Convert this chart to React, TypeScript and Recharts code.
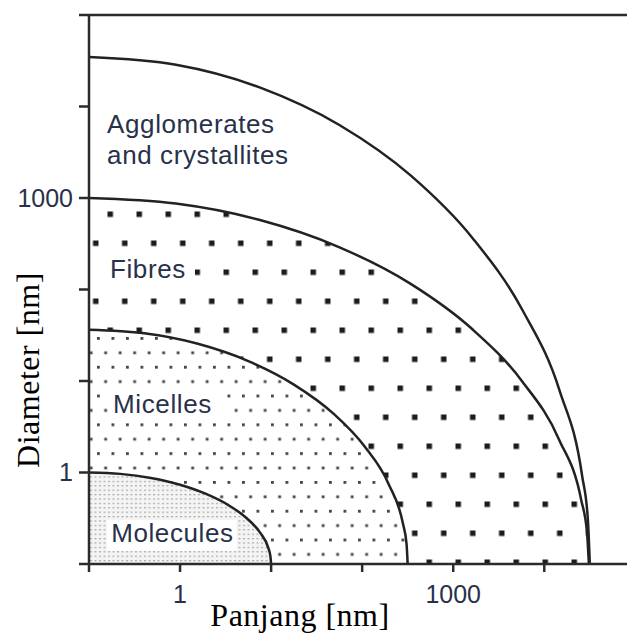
import { ComposedChart, Area, Line, XAxis, YAxis, ReferenceLine, ReferenceDot } from 'recharts';

// boundary curves: length [nm] vs diameter [nm]
const moleculesLength = [0.1, 0.22, 0.48, 1.0, 1.93, 3.4, 5.4, 7.57, 9.33, 9.82, 10];
const moleculesDiameter = [1, 0.966, 0.871, 0.735, 0.583, 0.44, 0.316, 0.22, 0.149, 0.122, 0.1];

const micellesLength = [0.1, 0.405, 1.57, 5.62, 17.8, 48, 107, 195, 280, 307, 316];
const micellesDiameter = [36.3, 33.2, 25.5, 16.5, 9.14, 4.43, 1.91, 0.75, 0.278, 0.167, 0.1];

const fibresLength = [0.1, 0.898, 7.55, 55.6, 338, 1603, 5675, 14420, 25530, 29440, 30900];
const fibresDiameter = [1000, 869, 574, 291, 116, 37.2, 10, 2.33, 0.494, 0.223, 0.1];

const agglomLength = [0.1, 0.902, 7.6, 56.2, 343, 1633, 5794, 14720, 26060, 30130, 31620];
const agglomDiameter = [34670, 28580, 16070, 6281, 1754, 364, 58.9, 7.85, 0.916, 0.304, 0.1];

const xTicks = [0.1, 1, 10, 100, 1000, 10000];
const yTicks = [0.1, 1, 10, 100, 1000, 10000, 100000];
const labeledTicks = [1, 1000];

// region names, anchored at the start of their first line (length, diameter)
const regionNames = [
  { lines: ['Agglomerates', 'and crystallites'], x: 0.158, y: 5130 },
  { lines: ['Fibres'], x: 0.17, y: 134 },
  { lines: ['Micelles'], x: 0.184, y: 4.47 },
  { lines: ['Molecules'], x: 0.175, y: 0.174 },
];

const toPoints = (xs: number[], ys: number[]) => xs.map((x, i) => ({ x, y: ys[i] }));

const molecules = toPoints(moleculesLength, moleculesDiameter);
const micelles = toPoints(micellesLength, micellesDiameter);
const fibres = toPoints(fibresLength, fibresDiameter);
const agglomerates = toPoints(agglomLength, agglomDiameter);

const axisColor = '#2b2b2b';
const curveColor = '#222';
const textColor = '#28314a';
const sans = '"Liberation Sans", Arial, sans-serif';
const serif = '"Liberation Serif", "Times New Roman", serif';

const fmtTick = (v: number) => (labeledTicks.includes(v) ? String(v) : '');

const regionLabel = (lines: string[]) => (props: any) => {
  const vb = props.viewBox || {};
  // single-line names sit on a pattern, so knock a white box out behind them
  const boxed = lines.length === 1;
  return (
    <g>
      {boxed && (
        <rect x={vb.x - 4} y={vb.y - 22} width={lines[0].length * 13.5 + 8} height={31} fill="#fff" />
      )}
      <text x={vb.x} y={vb.y} fill={textColor} fontSize={26} letterSpacing={0.6} fontFamily={sans}>
        {lines.map((l, i) => (
          <tspan key={i} x={vb.x} dy={i === 0 ? 0 : 31}>
            {l}
          </tspan>
        ))}
      </text>
    </g>
  );
};

const xTitle = (props: any) => {
  const vb = props.viewBox || { x: 89, y: 564 };
  return (
    <text
      x={vb.x + 211}
      y={vb.y + 62}
      textAnchor="middle"
      fontSize={32}
      letterSpacing={0.5}
      fontFamily={serif}
      fill="#000"
    >
      Panjang [nm]
    </text>
  );
};

const yTitle = (props: any) => {
  const vb = props.viewBox || { x: 0, y: 15 };
  const cx = vb.x + 28;
  const cy = vb.y + 355;
  return (
    <text
      x={cx}
      y={cy}
      textAnchor="middle"
      dominantBaseline="central"
      transform={`rotate(-90, ${cx}, ${cy})`}
      fontSize={32}
      letterSpacing={0.5}
      fontFamily={serif}
      fill="#000"
    >
      Diameter [nm]
    </text>
  );
};

export default function App() {
  return (
    <div style={{ position: 'absolute', left: 0, top: 0, width: 627, height: 633, background: '#fff' }}>
      <ComposedChart width={627} height={633} margin={{ top: 15, right: 0, bottom: 0, left: 0 }}>
        <defs>
          <pattern id="fibreDots" patternUnits="userSpaceOnUse" x={107.5} y={211.5} width={29} height={58}>
            <rect width={29} height={58} fill="#fff" />
            <rect x={0} y={0} width={5.5} height={5.5} fill="#1c1c1c" />
            <rect x={14.5} y={29} width={5.5} height={5.5} fill="#1c1c1c" />
          </pattern>
          <pattern id="micelleDots" patternUnits="userSpaceOnUse" x={97} y={337} width={14.5} height={28.8}>
            <rect width={14.5} height={28.8} fill="#fff" />
            <rect x={0} y={0} width={2.8} height={2.8} fill="#444" />
            <rect x={7.25} y={14.4} width={2.8} height={2.8} fill="#444" />
          </pattern>
          <pattern id="moleculeDots" patternUnits="userSpaceOnUse" x={90} y={472} width={4.5} height={4.4}>
            <rect width={4.5} height={4.4} fill="#f4f4f4" />
            <rect x={0} y={0} width={2} height={1.2} fill="#a8a8a8" />
          </pattern>
        </defs>

        <XAxis
          dataKey="x"
          type="number"
          scale="log"
          domain={[0.1, 81000]}
          allowDataOverflow
          ticks={xTicks}
          interval={0}
          tickFormatter={fmtTick}
          height={69}
          tickSize={8}
          tickMargin={13}
          axisLine={{ stroke: axisColor, strokeWidth: 2.5 }}
          tickLine={{ stroke: axisColor, strokeWidth: 2.5 }}
          tick={{ fill: textColor, fontSize: 25, fontFamily: sans }}
          label={xTitle}
        />
        <YAxis
          dataKey="y"
          type="number"
          scale="log"
          domain={[0.1, 100000]}
          allowDataOverflow
          ticks={yTicks}
          interval={0}
          tickFormatter={fmtTick}
          width={89}
          tickSize={10}
          tickMargin={6}
          axisLine={{ stroke: axisColor, strokeWidth: 2.5 }}
          tickLine={{ stroke: axisColor, strokeWidth: 2.5 }}
          tick={{ fill: textColor, fontSize: 25, fontFamily: sans }}
          label={yTitle}
        />

        <ReferenceLine y={100000} stroke={axisColor} strokeWidth={2.5} />

        <Area
          data={fibres}
          dataKey="y"
          type="monotone"
          baseValue={0.1}
          stroke={curveColor}
          strokeWidth={2.5}
          fill="url(#fibreDots)"
          fillOpacity={1}
          dot={false}
          activeDot={false}
          isAnimationActive={false}
        />
        <Area
          data={micelles}
          dataKey="y"
          type="monotone"
          baseValue={0.1}
          stroke={curveColor}
          strokeWidth={2.5}
          fill="url(#micelleDots)"
          fillOpacity={1}
          dot={false}
          activeDot={false}
          isAnimationActive={false}
        />
        <Area
          data={molecules}
          dataKey="y"
          type="monotone"
          baseValue={0.1}
          stroke={curveColor}
          strokeWidth={2.5}
          fill="url(#moleculeDots)"
          fillOpacity={1}
          dot={false}
          activeDot={false}
          isAnimationActive={false}
        />
        <Line
          data={agglomerates}
          dataKey="y"
          type="monotone"
          stroke={curveColor}
          strokeWidth={2.5}
          dot={false}
          activeDot={false}
          isAnimationActive={false}
        />

        {regionNames.map((r) => (
          <ReferenceDot
            key={r.lines[0]}
            x={r.x}
            y={r.y}
            r={0}
            fill="none"
            stroke="none"
            label={regionLabel(r.lines)}
          />
        ))}
      </ComposedChart>
    </div>
  );
}
